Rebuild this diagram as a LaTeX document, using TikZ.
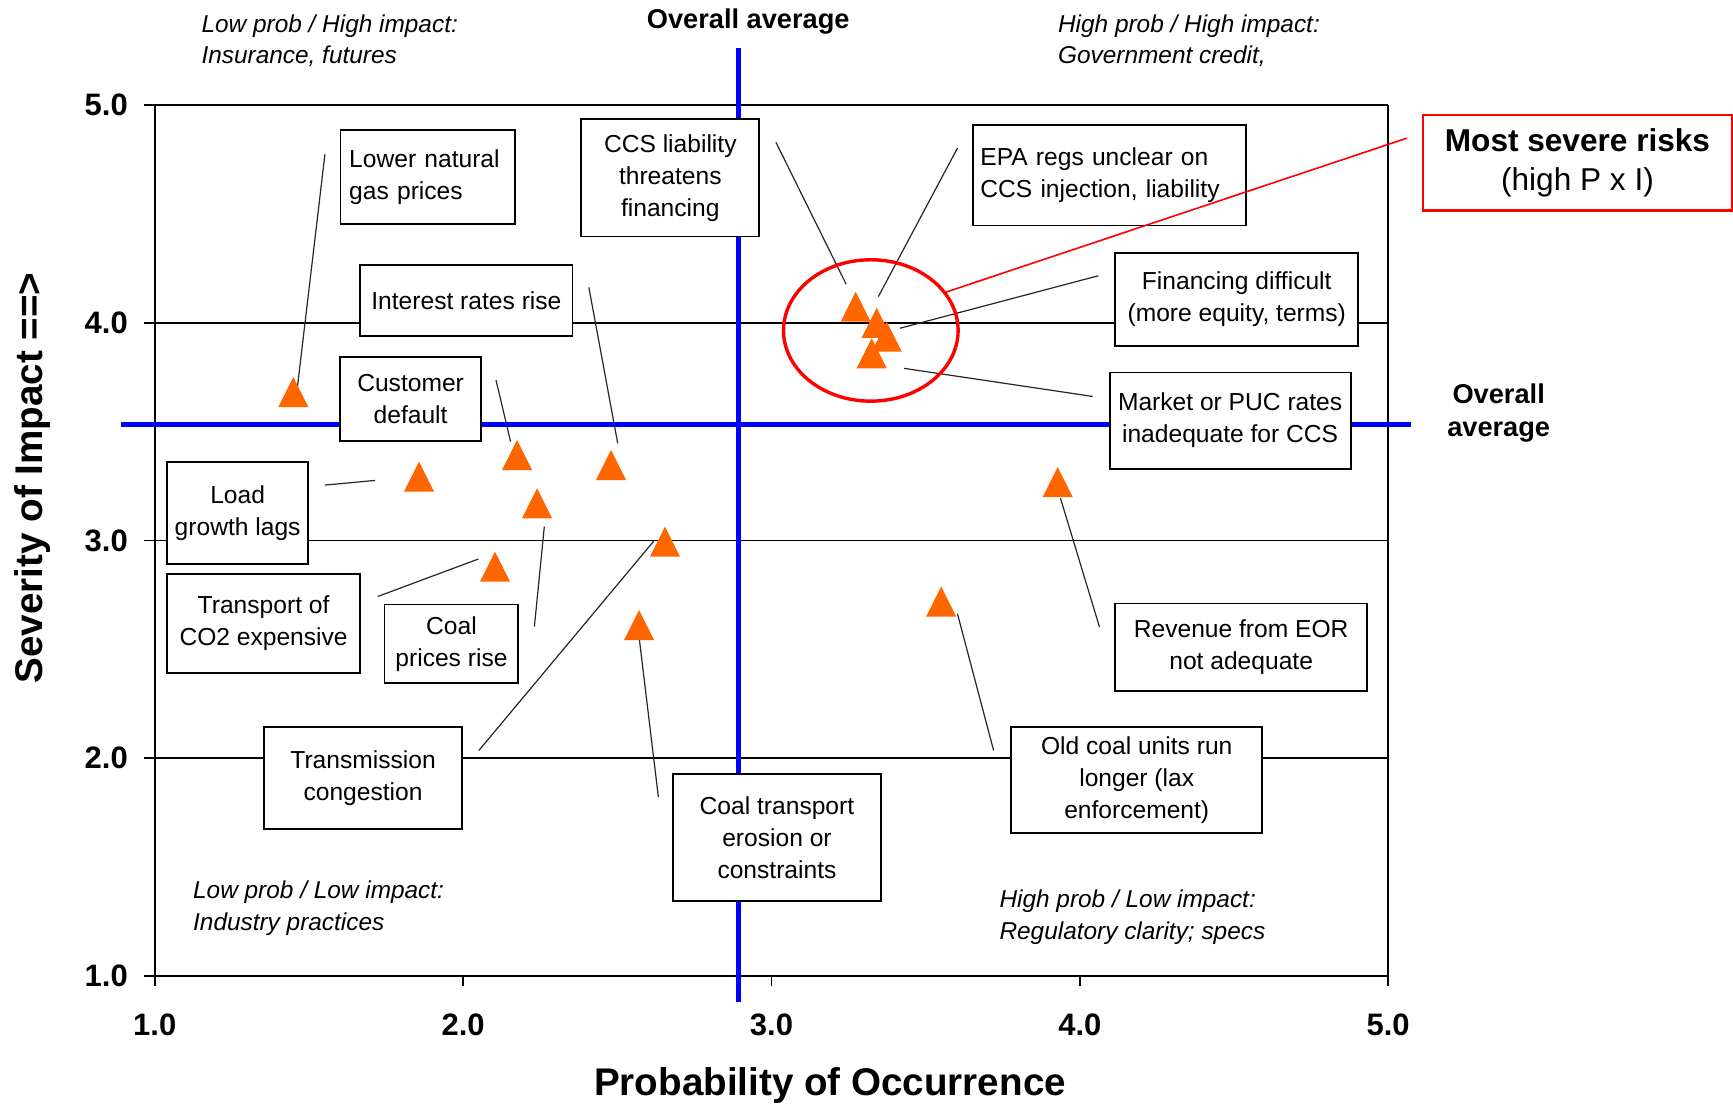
\documentclass[tikz,border=0pt]{standalone}
\usepackage{fontspec}
\setmainfont{Liberation Sans}
\usetikzlibrary{shapes.geometric}
\definecolor{riskorange}{RGB}{255,102,0}
\definecolor{avgblue}{RGB}{0,0,255}
\definecolor{hotred}{RGB}{255,0,0}

% orange risk marker: named centre plus an upward triangle
\newcommand\riskmark[3]{%
  \coordinate (#1) at (#2,#3);
  \fill[riskorange] ([shift={(-13.6,13.6)}]#1) -- ([shift={(13.6,13.6)}]#1)
     -- ([shift={(0,-13.6)}]#1) -- cycle;}

\begin{document}
\begin{tikzpicture}[x=0.5526pt,y=-0.5526pt,
  boxfont/.style={font=\fontsize{12.3pt}{16pt}\selectfont},
  riskbox/.style={draw, fill=white, line width=0.9pt, inner sep=0pt, align=center, boxfont},
  boxsize/.style 2 args={minimum width=#1, minimum height=#2},
  leader/.style={line width=0.6pt, black!85},
  axisline/.style={line width=0.8pt},
  avgline/.style={avgblue, line width=2.5pt},
  ticklabel/.style={font=\fontsize{15.5pt}{18pt}\selectfont\bfseries, inner sep=0pt},
  quadlabel/.style={font=\fontsize{12.2pt}{15.7pt}\selectfont\itshape, align=left, anchor=base west, inner sep=0pt},
  avglabel/.style={font=\fontsize{13.6pt}{16.3pt}\selectfont\bfseries, inner sep=0pt},
  axistitle/.style={font=\fontsize{19.3pt}{22pt}\selectfont\bfseries, inner sep=0pt, anchor=base},
]
\useasboundingbox (0,0) rectangle (1568,999);
\fill[white] (0,0) rectangle (1568,999);

% grid lines, frame and ticks
\foreach \yy in {95,292,489,686,883} \draw[axisline] (130,\yy) -- (1256,\yy);
\foreach \xx in {140,419,698,977,1256} \draw[axisline] (\xx,883) -- (\xx,892);
\draw[axisline] (140,95) -- (140,883);
\draw[axisline] (1256,95) -- (1256,883);

% tick labels
\foreach \v/\yy [count=\i] in {5.0/95,4.0/292,3.0/489,2.0/686,1.0/883}
  \node[ticklabel, anchor=east] (ylab\i) at (116,\yy) {\v};
\foreach \v/\xx [count=\i] in {1.0/140,2.0/419,3.0/698,4.0/977,5.0/1256}
  \node[ticklabel] (xlab\i) at (\xx,927) {\v};

% axis titles
\node[axistitle] (xtitle) at (751,991.5) {Probability of Occurrence};
\node[axistitle, rotate=90] (ytitle) at (38,432.5) {Severity of Impact ==>};

% overall averages
\draw[avgline] (668.6,43.7) -- (668.6,906.8);
\draw[avgline] (109.6,384.5) -- (1276.8,384.5);
\node[avglabel, anchor=base] (avgtop) at (677,25.5) {Overall average};
\node[avglabel, align=center, anchor=base] (avgright) at (1356,395) {Overall\\average};

% quadrant notes (anchored at the baseline of their last line)
\node[quadlabel] (qtl) at (182,57.5) {Low prob / High impact:\\Insurance, futures};
\node[quadlabel] (qtr) at (957,57.5) {High prob / High impact:\\Government credit,};
\node[quadlabel] (qbl) at (174.4,841.7) {Low prob / Low impact:\\Industry practices};
\node[quadlabel] (qbr) at (904,849.9) {High prob / Low impact:\\Regulatory clarity; specs};

% risk labels
\node[riskbox, boxsize={87.3pt}{47pt}, align=left, inner xsep=4.4pt, text width=78.5pt] (gas) at (387,160.5) {Lower natural\\gas prices};
\node[riskbox, boxsize={89pt}{58.6pt}] (ccs) at (606.5,161) {CCS liability\\threatens\\financing};
\node[riskbox, boxsize={106.1pt}{35.4pt}] (interest) at (422,272) {Interest rates rise};
\node[riskbox, boxsize={70.2pt}{42pt}] (customer) at (371.5,361) {Customer\\default};
\node[riskbox, boxsize={70.7pt}{50.8pt}] (load) at (215,464) {Load\\growth lags};
\node[riskbox, boxsize={96.7pt}{49.7pt}] (transport) at (238.5,564) {Transport of\\CO2 expensive};
\node[riskbox, boxsize={66.9pt}{39.2pt}] (coalprice) at (408.5,582.5) {Coal\\prices rise};
\node[riskbox, boxsize={98.9pt}{50.8pt}] (transmission) at (328.5,704) {Transmission\\congestion};
\node[riskbox, boxsize={103.9pt}{63.5pt}] (coaltrans) at (703,757.5) {Coal transport\\erosion or\\constraints};
\node[riskbox, boxsize={136.5pt}{50.3pt}, align=left, inner xsep=3.9pt, text width=128.7pt] (epa) at (1003.5,158.5) {EPA regs unclear on\\CCS injection, liability};
\node[riskbox, boxsize={121.6pt}{46.4pt}] (financing) at (1119,271) {Financing difficult\\(more equity, terms)};
\node[riskbox, boxsize={120.5pt}{48.1pt}] (market) at (1113,380.5) {Market or PUC rates\\inadequate for CCS};
\node[riskbox, boxsize={126pt}{43.7pt}] (revenue) at (1123,585.5) {Revenue from EOR\\not adequate};
\node[riskbox, boxsize={125.4pt}{53pt}] (oldcoal) at (1028.5,706) {Old coal units run\\longer (lax\\enforcement)};

% leader line ends
\coordinate (gasA) at (294,139.6);          \coordinate (gasB) at (268.9,352);
\coordinate (ccsA) at (702,128.6);          \coordinate (ccsB) at (765.5,257);
\coordinate (epaA) at (866.3,134);          \coordinate (epaB) at (794.7,268.4);
\coordinate (interestA) at (532.8,260);     \coordinate (interestB) at (558.9,401.1);
\coordinate (customerA) at (448.8,344);     \coordinate (customerB) at (462,399.6);
\coordinate (loadA) at (294,438.9);         \coordinate (loadB) at (339.3,434.7);
\coordinate (transportA) at (341.8,539.7);  \coordinate (transportB) at (432.8,505.8);
\coordinate (coalpriceA) at (483.5,567);    \coordinate (coalpriceB) at (492.5,476.5);
\coordinate (transmissionA) at (433.3,679); \coordinate (transmissionB) at (592,489);
\coordinate (coaltransA) at (595.7,721.3);  \coordinate (coaltransB) at (578.5,578.5);
\coordinate (financingA) at (993.8,249.5);  \coordinate (financingB) at (814.3,297);
\coordinate (marketA) at (988.7,358.7);     \coordinate (marketB) at (818,333.3);
\coordinate (revenueA) at (994.8,567.3);    \coordinate (revenueB) at (959.5,450.8);
\coordinate (oldcoalA) at (899,679);        \coordinate (oldcoalB) at (866.3,555.3);

\foreach \n in {gas,ccs,epa,interest,customer,load,transport,coalprice,
                transmission,coaltrans,financing,market,revenue,oldcoal}
  \draw[leader] (\n A) -- (\n B);

% risk markers
\riskmark{mgas}{265.4}{354.7}
\riskmark{mload}{379.1}{431.3}
\riskmark{mcustomer}{467.8}{411.7}
\riskmark{minterest}{552.8}{420.7}
\riskmark{mcoalprice}{485.9}{455.4}
\riskmark{mtransport}{447.9}{512.7}
\riskmark{mtransmission}{601.7}{490.1}
\riskmark{mcoaltrans}{578.2}{565.5}
\riskmark{mccs}{774.2}{277.5}
\riskmark{mepa}{793.2}{292}
\riskmark{mfinancing}{802.3}{304.6}
\riskmark{mmarket}{788.7}{319.7}
\riskmark{mrevenue}{957}{436.2}
\riskmark{moldcoal}{851.6}{544.3}

% most severe cluster and callout
\node[draw=hotred, line width=1.7pt, ellipse, inner sep=0pt,
      minimum width=87.3pt, minimum height=70.7pt] (hotspot) at (787.9,299) {};
\node[draw=hotred, line width=1.2pt, fill=white, inner sep=0pt, align=center,
      minimum width=154.2pt, minimum height=47.8pt,
      font=\fontsize{15.8pt}{19.1pt}\selectfont] (severe) at (1427.3,147.3)
      {\textbf{Most severe risks}\\(high P x I)};
\coordinate (calloutA) at (1273,125);
\draw[hotred, line width=0.8pt] (calloutA) -- (hotspot.27);
\end{tikzpicture}
\end{document}
